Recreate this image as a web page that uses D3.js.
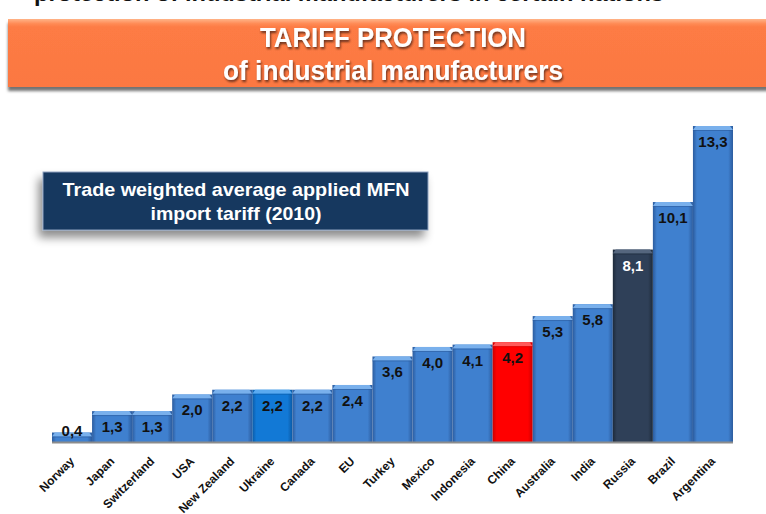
<!DOCTYPE html>
<html>
<head>
<meta charset="utf-8">
<script src="https://cdn.jsdelivr.net/npm/d3@7"></script>
<style>
  html, body { margin: 0; padding: 0; background: #fff; }
  svg { display: block; font-family: Arial, "Liberation Sans", sans-serif; }
</style>
</head>
<body>
<svg id="chart" width="766" height="514"></svg>
<script>
// Trade weighted average applied MFN import tariff on industrial goods, 2010 (%)
const countries = ["Norway", "Japan", "Switzerland", "USA", "New Zealand", "Ukraine", "Canada", "EU",
  "Turkey", "Mexico", "Indonesia", "China", "Australia", "India", "Russia", "Brazil", "Argentina"];
const tariffs = [0.4, 1.3, 1.3, 2.0, 2.2, 2.2, 2.2, 2.4, 3.6, 4.0, 4.1, 4.2, 5.3, 5.8, 8.1, 10.1, 13.3];
const highlighted = { "Ukraine": "ukraine", "China": "china", "Russia": "russia" };

const titleLines = ["TARIFF PROTECTION", "of industrial manufacturers"];
const noteLines = ["Trade weighted average applied MFN", "import tariff (2010)"];
const headerText = "protection of industrial manufacturers in certain nations";

// Colour schemes for bar fills: [edge, centre, top bevel]
const palettes = {
  normal:  ["#2c5c9e", "#3f80cf", "#79b0ec"],
  ukraine: ["#0a5aa6", "#1279d6", "#5aaaf0"],
  china:   ["#cc0000", "#ff0000", "#ff5a5a"],
  russia:  ["#1e2b3b", "#2f4058", "#55667e"]
};

const svg = d3.select("#chart");
const defs = svg.append("defs");

// Horizontal gradients give each bar a bevelled look
Object.entries(palettes).forEach(([k, c]) => {
  const g = defs.append("linearGradient").attr("id", "bar-" + k)
    .attr("x1", 0).attr("x2", 1).attr("y1", 0).attr("y2", 0);
  g.append("stop").attr("offset", 0).attr("stop-color", c[0]);
  g.append("stop").attr("offset", 0.1).attr("stop-color", c[1]);
  g.append("stop").attr("offset", 0.88).attr("stop-color", c[1]);
  g.append("stop").attr("offset", 1).attr("stop-color", c[0]);
});

const shadow = defs.append("filter").attr("id", "drop")
  .attr("x", "-10%").attr("y", "-20%").attr("width", "125%").attr("height", "160%");
shadow.append("feDropShadow").attr("dx", -4).attr("dy", 7).attr("stdDeviation", 5)
  .attr("flood-color", "#000").attr("flood-opacity", 0.45);

const bannerShadow = defs.append("filter").attr("id", "bannerShadow")
  .attr("x", "-5%").attr("y", "-20%").attr("width", "110%").attr("height", "150%");
bannerShadow.append("feDropShadow").attr("dx", 0).attr("dy", 4).attr("stdDeviation", 1.5)
  .attr("flood-color", "#000").attr("flood-opacity", 0.55);

const textShadow = defs.append("filter").attr("id", "textShadow")
  .attr("x", "-5%").attr("y", "-20%").attr("width", "110%").attr("height", "160%");
textShadow.append("feDropShadow").attr("dx", 1).attr("dy", 2).attr("stdDeviation", 0.8)
  .attr("flood-color", "#3a1a08").attr("flood-opacity", 0.75);

const bannerGrad = defs.append("linearGradient").attr("id", "banner")
  .attr("x1", 0).attr("x2", 0).attr("y1", 0).attr("y2", 1);
bannerGrad.append("stop").attr("offset", 0).attr("stop-color", "#ffb488");
bannerGrad.append("stop").attr("offset", 0.07).attr("stop-color", "#ff8a55");
bannerGrad.append("stop").attr("offset", 0.12).attr("stop-color", "#fd7b44");
bannerGrad.append("stop").attr("offset", 1).attr("stop-color", "#fb7842");

// Heading above the banner, running off the top edge
svg.append("text")
  .attr("x", 34).attr("y", 1)
  .attr("font-size", 22).attr("font-weight", "bold").attr("fill", "#111")
  .attr("textLength", 630).attr("lengthAdjust", "spacingAndGlyphs")
  .text(headerText);

// Title banner
svg.append("rect")
  .attr("x", 8).attr("y", 19).attr("width", 780).attr("height", 68)
  .attr("fill", "url(#banner)").attr("filter", "url(#bannerShadow)");

svg.append("g").attr("filter", "url(#textShadow)")
  .selectAll("text").data(titleLines).join("text")
  .attr("x", 393).attr("y", (d, i) => 47 + i * 33)
  .attr("text-anchor", "middle")
  .attr("font-family", "'Liberation Sans Narrow', 'Arial Narrow', Arial, sans-serif")
  .attr("font-size", 28).attr("font-weight", "bold").attr("fill", "#fff")
  .attr("textLength", (d, i) => i === 0 ? 266 : 340)
  .attr("lengthAdjust", "spacingAndGlyphs")
  .text(d => d);

// Scales
const x = d3.scaleBand().domain(countries).range([52, 733]).padding(0);
const y = d3.scaleLinear().domain([0, 13.3]).range([442, 126]);
const fmt = v => d3.format(".1f")(v).replace(".", ",");

const data = countries.map((c, i) => ({ country: c, value: tariffs[i], kind: highlighted[c] || "normal" }));

const bars = svg.append("g").selectAll("g").data(data).join("g");

bars.append("rect")
  .attr("x", d => x(d.country))
  .attr("y", d => y(d.value))
  .attr("width", x.bandwidth())
  .attr("height", d => y(0) - y(d.value))
  .attr("fill", d => `url(#bar-${d.kind})`);

// Top bevel of each bar
bars.append("path")
  .attr("d", d => {
    const x0 = x(d.country), x1 = x0 + x.bandwidth(), t = y(d.value);
    return `M${x0},${t + 4} L${x0 + 3},${t} L${x1 - 3},${t} L${x1},${t + 4} Z`;
  })
  .attr("fill", d => palettes[d.kind][2]);

bars.append("line")
  .attr("x1", d => x(d.country)).attr("x2", d => x(d.country) + x.bandwidth())
  .attr("y1", d => y(d.value) + 4.5).attr("y2", d => y(d.value) + 4.5)
  .attr("stroke", d => palettes[d.kind][0]).attr("stroke-width", 1).attr("opacity", 0.6);

// Value labels
bars.append("text")
  .attr("x", d => x(d.country) + x.bandwidth() / 2)
  .attr("y", d => Math.min(y(d.value) + 21, 436))
  .attr("text-anchor", "middle")
  .attr("font-size", 15).attr("font-weight", "bold")
  .attr("fill", d => d.kind === "russia" ? "#fff" : "#111")
  .text(d => fmt(d.value));

// Baseline
svg.append("line")
  .attr("x1", 52).attr("x2", 733).attr("y1", y(0) + 0.5).attr("y2", y(0) + 0.5)
  .attr("stroke", "#8c8c8c").attr("stroke-width", 2);

// Category axis with rotated labels
const xAxis = svg.append("g")
  .attr("transform", `translate(0,${y(0)})`)
  .call(d3.axisBottom(x).tickSize(0).tickPadding(0));
xAxis.select(".domain").remove();
xAxis.selectAll(".tick text")
  .attr("font-family", "Arial, 'Liberation Sans', sans-serif")
  .attr("font-size", 12).attr("font-weight", "bold").attr("fill", "#111")
  .attr("text-anchor", "end")
  .attr("dy", 0)
  .attr("transform", "translate(3,20) rotate(-45)");

// Note box
const note = svg.append("g");
note.append("rect")
  .attr("x", 43).attr("y", 172).attr("width", 385).attr("height", 58)
  .attr("fill", "#17375e").attr("stroke", "#8da2bf").attr("stroke-width", 1)
  .attr("filter", "url(#drop)");
note.selectAll("text").data(noteLines).join("text")
  .attr("x", 236).attr("y", (d, i) => 196 + i * 24)
  .attr("text-anchor", "middle")
  .attr("font-size", 19).attr("font-weight", "bold").attr("fill", "#fff")
  .attr("textLength", (d, i) => i === 0 ? 347 : 171)
  .attr("lengthAdjust", "spacingAndGlyphs")
  .text(d => d);
</script>
</body>
</html>
